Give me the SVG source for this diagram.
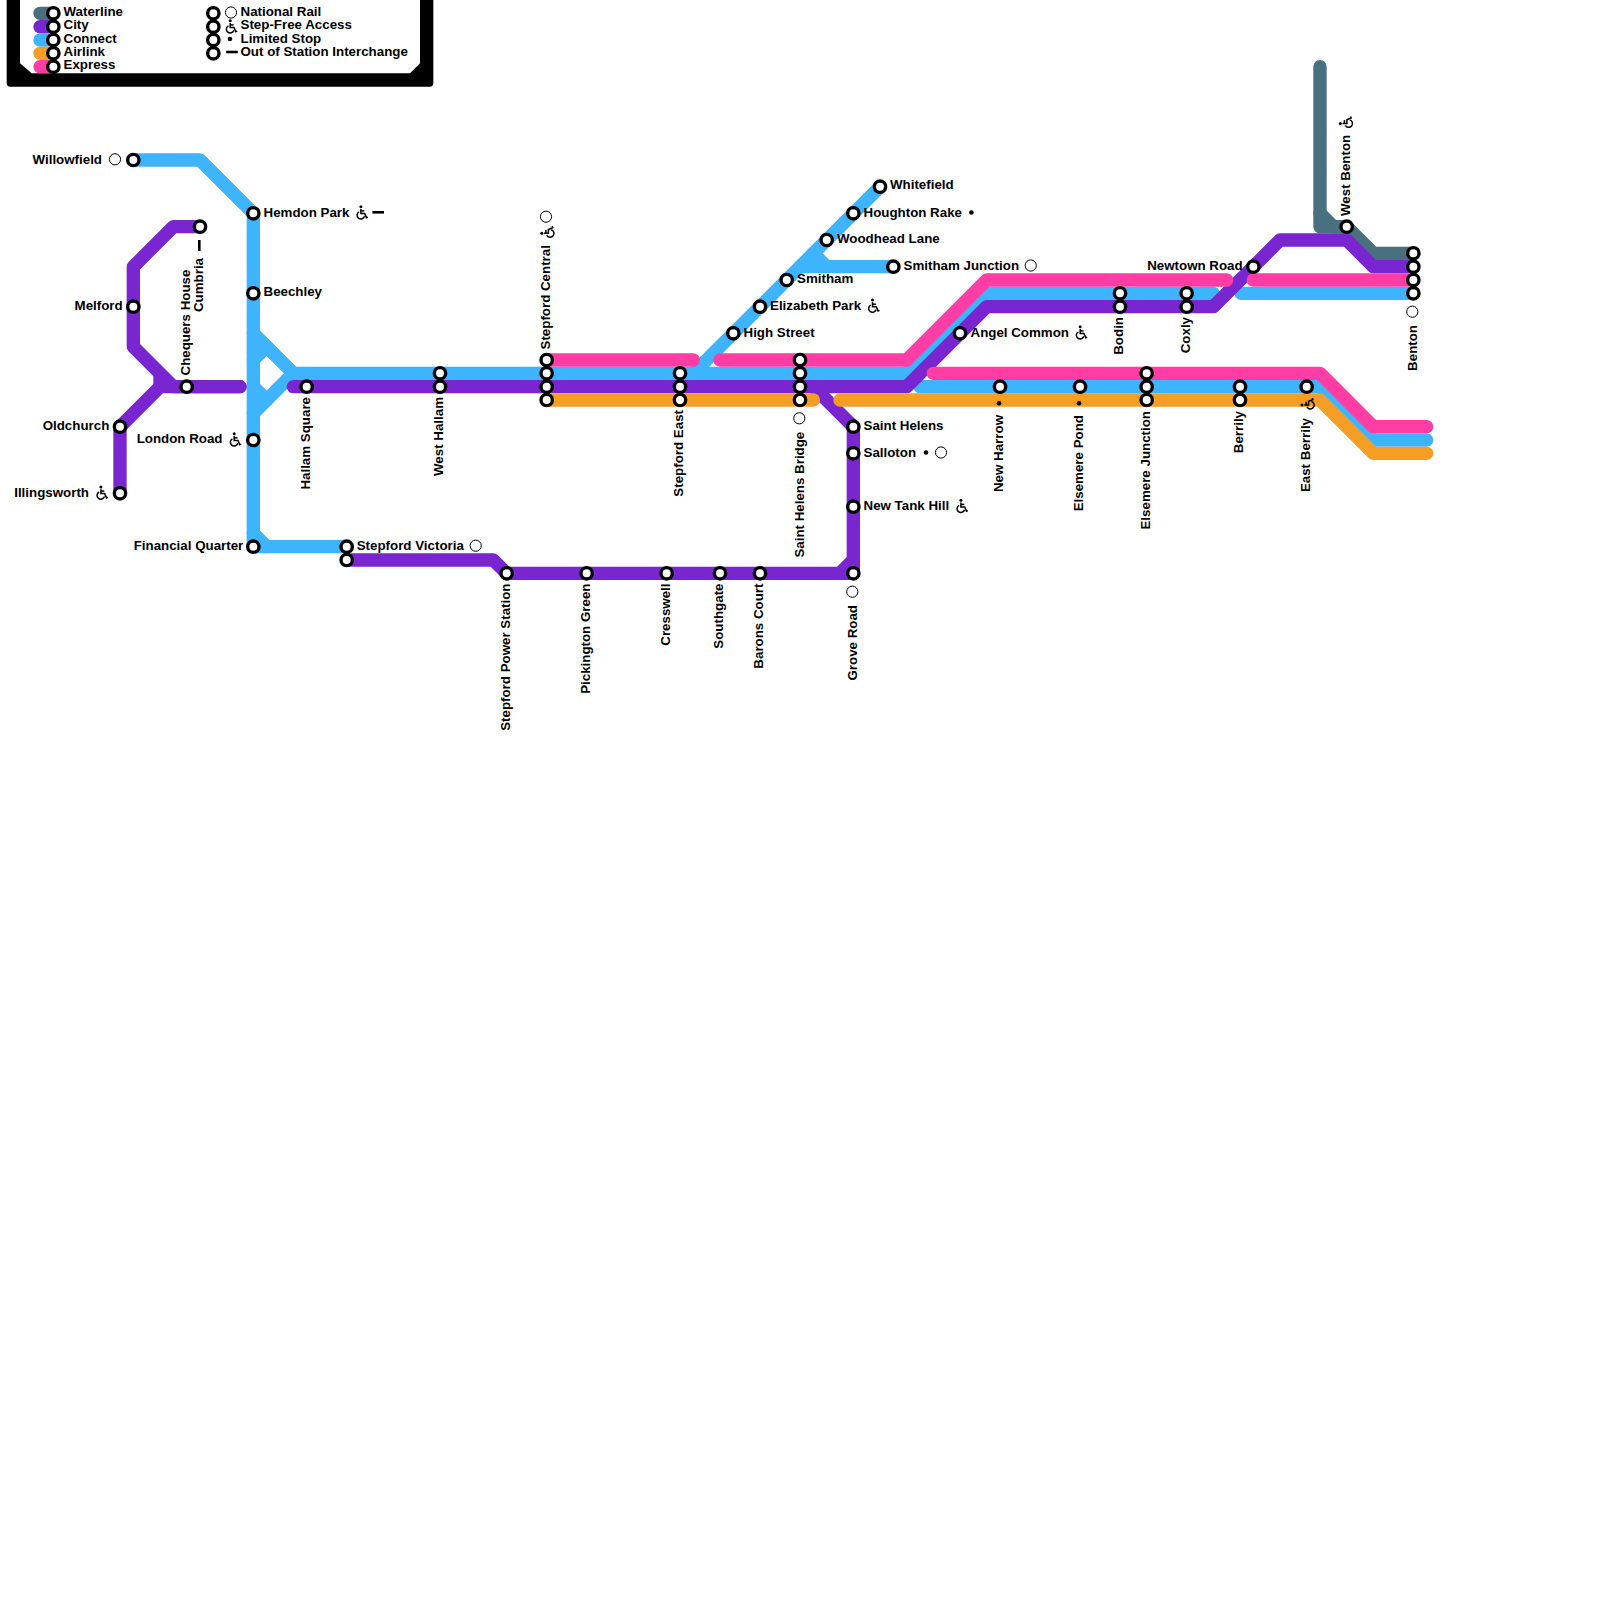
<svg xmlns="http://www.w3.org/2000/svg" width="1600" height="1600" viewBox="0 0 1600 1600">
<style>
text{font-family:"Liberation Sans",Arial,sans-serif;font-weight:700;font-size:13.33px;fill:#000}
.e{text-anchor:end}
.l{fill:none;stroke-width:13.33;stroke-linecap:round;stroke-linejoin:round}
.b{stroke-linecap:butt}
.wa{stroke:#48707F}.ci{stroke:#7A26D0}.co{stroke:#3EB4FF}.ai{stroke:#F59E26}.ex{stroke:#FF3DA5}
.s{fill:#fff;stroke:#000;stroke-width:3.4}
.nr{fill:#fff;stroke:#000;stroke-width:1}
.d{stroke:#000;stroke-width:2.6;fill:none}
</style>
<defs>
<circle id="st" class="s" r="5.67"/>
<circle id="rail" class="nr" r="5.6"/>
<circle id="dot" r="2.3" fill="#000"/>
<line id="dash" class="d" x1="-5.8" x2="5.8"/>
<g id="sf" fill="none" stroke="#000" stroke-width="1.5">
<circle cx="-.8" cy="-5.7" r="1.5" fill="#000" stroke="none"/>
<path d="M-.8-3.5V.9H3L4.8 5.2 6.2 4.6"/>
<path d="M-.8-1.6H2.6"/>
<path d="M-2.6-.7A3.8 3.8 0 1 0 2.8 3.7"/>
</g>
</defs>

<g id="legend">
<path fill="#000" d="M6.67-10V83Q6.67 86.67 10.3 86.67H429.7Q433.33 86.67 433.33 83V-10H420V63.3L410 73.3H31.7L20 63.3V-10Z"/>
<path class="l wa" d="M40 13.33H53.33"/>
<path class="l ci" d="M40 26.67H53.33"/>
<path class="l co" d="M40 40H53.33"/>
<path class="l ai" d="M40 53.33H53.33"/>
<path class="l ex" d="M40 66.67H53.33"/>
<use href="#st" x="53.33" y="13.33"/><use href="#st" x="53.33" y="26.67"/><use href="#st" x="53.33" y="40"/><use href="#st" x="53.33" y="53.33"/><use href="#st" x="53.33" y="66.67"/>
<use href="#st" x="213.33" y="13.33"/><use href="#st" x="213.33" y="26.67"/><use href="#st" x="213.33" y="40"/><use href="#st" x="213.33" y="53.33"/>
<text x="63.5" y="16">Waterline</text><text x="63.5" y="29.3">City</text><text x="63.5" y="42.6">Connect</text><text x="63.5" y="56">Airlink</text><text x="63.5" y="69.3">Express</text>
<use href="#rail" x="231" y="12.5"/><use href="#sf" x="231" y="26.5"/><use href="#dot" x="230" y="39"/><use href="#dash" x="232" y="52"/>
<text x="240.5" y="16">National Rail</text><text x="240.5" y="29.3">Step-Free Access</text><text x="240.5" y="42.6">Limited Stop</text><text x="240.5" y="56">Out of Station Interchange</text>
</g>

<g id="connectors">
<g id="line-waterline">
<path class="l wa" d="M1320 66.67V226.67H1346.67"/>
<path class="l wa" d="M1320 213.33 1333.33 226.67H1346.67L1373.33 253.33H1413.33"/>
</g>
<g id="line-connect">
<path class="l co" d="M133.33 160H200L253.33 213.33V546.67H346.67"/>
<path class="l co" d="M253.33 533.33 266.67 546.67"/>
<path class="l co" d="M253.33 333.33 293.33 373.33H906.67L986.67 293.33H1213.33"/>
<path class="l co" d="M253.33 413.33 293.33 373.33"/>
<path class="l co" d="M253.33 360 266.67 346.67"/>
<path class="l co" d="M253.33 386.67 266.67 400"/>
<path class="l co" d="M693.33 373.33 880 186.67"/>
<path class="l co" d="M800 266.67H893.33"/>
<path class="l co" d="M813.33 253.33 826.67 266.67"/>
<path class="l co" d="M920 386.67H1320L1373.33 440H1426.67"/>
<path class="l co" d="M1241 293.33H1413.33"/>
</g>
<g id="line-city">
<path class="l ci" d="M293.33 386.67H906.67L986.67 306.67H1213.33L1280 240H1346.67L1373.33 266.67H1413.33"/>
<path class="l ci" d="M813.33 386.67 853.33 426.67V573.33"/>
<path class="l ci" d="M853.33 560 840 573.33H506.67L493.33 560H346.67"/>
<path class="l ci" d="M840 573.33H853.33"/>
<path class="l ci" d="M200 226.67H173.33L133.33 266.67V346.67L173.33 386.67H240"/>
<path class="l ci" d="M120 493.33V426.67L160 386.67H240"/>
<path class="l ci b" d="M160 373.33V386.67"/>
</g>
<g id="line-airlink">
<path class="l ai" d="M546.67 400H813.33"/>
<path class="l ai" d="M840 400H1320L1373.33 453.33H1426.67"/>
</g>
<g id="line-express">
<path class="l ex" d="M546.67 360H693.33"/>
<path class="l ex" d="M720 360H906.67L986.67 280H1226.67"/>
<path class="l ex" d="M1253.33 280H1413.33"/>
<path class="l ex" d="M933.33 373.33H1320L1373.33 426.67H1426.67"/>
</g>
</g>

<g id="stations">
<g id="willowfield"><use href="#st" x="133.33" y="160"/><use href="#rail" x="115" y="159.3"/><text class="e" x="102" y="163.5">Willowfield</text></g>
<g id="hemdon-park"><use href="#st" x="253.33" y="213.33"/><text x="263.5" y="216.5">Hemdon Park</text><use href="#sf" x="361.7" y="212.5"/><use href="#dash" x="378.2" y="212.3"/></g>
<g id="beechley"><use href="#st" x="253.33" y="293.33"/><text x="263.5" y="296">Beechley</text></g>
<g id="london-road"><use href="#st" x="253.33" y="440"/><use href="#sf" x="235" y="439.5"/><text class="e" x="222.5" y="443.2">London Road</text></g>
<g id="financial-quarter"><use href="#st" x="253.33" y="546.67"/><text class="e" x="243.3" y="549.8">Financial Quarter</text></g>
<g id="stepford-victoria"><use href="#st" x="346.67" y="546.67"/><use href="#st" x="346.67" y="560"/><text x="356.7" y="549.8">Stepford Victoria</text><use href="#rail" x="475.7" y="545.7"/></g>
<g id="cumbria"><use href="#st" x="200" y="226.67"/><line class="d" x1="199.3" x2="199.3" y1="240" y2="251"/><text class="e" transform="translate(203.3 258) rotate(-90)">Cumbria</text></g>
<g id="melford"><use href="#st" x="133.33" y="306.67"/><text class="e" x="122.7" y="309.8">Melford</text></g>
<g id="chequers-house"><use href="#st" x="186.67" y="386.67"/><text transform="translate(190 375.5) rotate(-90)">Chequers House</text></g>
<g id="oldchurch"><use href="#st" x="120" y="426.67"/><text class="e" x="109.3" y="429.8">Oldchurch</text></g>
<g id="illingsworth"><use href="#st" x="120" y="493.33"/><use href="#sf" x="101.7" y="492.7"/><text class="e" x="89" y="496.5">Illingsworth</text></g>
<g id="hallam-square"><use href="#st" x="306.67" y="386.67"/><text class="e" transform="translate(310 397) rotate(-90)">Hallam Square</text></g>
<g id="west-hallam"><use href="#st" x="440" y="373.33"/><use href="#st" x="440" y="386.67"/><text class="e" transform="translate(443.3 397) rotate(-90)">West Hallam</text></g>
<g id="stepford-central"><use href="#st" x="546.67" y="360"/><use href="#st" x="546.67" y="373.33"/><use href="#st" x="546.67" y="386.67"/><use href="#st" x="546.67" y="400"/><text transform="translate(550 349.5) rotate(-90)">Stepford Central</text><use href="#sf" transform="translate(547.5 232.5) rotate(-90)"/><use href="#rail" x="546" y="216.7"/></g>
<g id="stepford-east"><use href="#st" x="680" y="373.33"/><use href="#st" x="680" y="386.67"/><use href="#st" x="680" y="400"/><text class="e" transform="translate(683.3 410) rotate(-90)">Stepford East</text></g>
<g id="saint-helens-bridge"><use href="#st" x="800" y="360"/><use href="#st" x="800" y="373.33"/><use href="#st" x="800" y="386.67"/><use href="#st" x="800" y="400"/><use href="#rail" x="799.3" y="418.3"/><text class="e" transform="translate(803.7 431.7) rotate(-90)">Saint Helens Bridge</text></g>
<g id="stepford-power-station"><use href="#st" x="506.67" y="573.33"/><text class="e" transform="translate(510 583.5) rotate(-90)">Stepford Power Station</text></g>
<g id="pickington-green"><use href="#st" x="586.67" y="573.33"/><text class="e" transform="translate(590 583.5) rotate(-90)">Pickington Green</text></g>
<g id="cresswell"><use href="#st" x="666.67" y="573.33"/><text class="e" transform="translate(670 583.5) rotate(-90)">Cresswell</text></g>
<g id="southgate"><use href="#st" x="720" y="573.33"/><text class="e" transform="translate(723.3 583.5) rotate(-90)">Southgate</text></g>
<g id="barons-court"><use href="#st" x="760" y="573.33"/><text class="e" transform="translate(763.3 583.5) rotate(-90)">Barons Court</text></g>
<g id="grove-road"><use href="#st" x="853.33" y="573.33"/><use href="#rail" x="852.3" y="591.7"/><text class="e" transform="translate(856.7 605) rotate(-90)">Grove Road</text></g>
<g id="saint-helens"><use href="#st" x="853.33" y="426.67"/><text x="863.5" y="429.8">Saint Helens</text></g>
<g id="salloton"><use href="#st" x="853.33" y="453.33"/><text x="863.5" y="456.5">Salloton</text><use href="#dot" x="926" y="452.5"/><use href="#rail" x="941" y="452.5"/></g>
<g id="new-tank-hill"><use href="#st" x="853.33" y="506.67"/><text x="863.5" y="509.8">New Tank Hill</text><use href="#sf" x="961.7" y="506"/></g>
<g id="high-street"><use href="#st" x="733.33" y="333.33"/><text x="743.5" y="336.5">High Street</text></g>
<g id="elizabeth-park"><use href="#st" x="760" y="306.67"/><text x="770" y="309.8">Elizabeth Park</text><use href="#sf" x="873.3" y="305.8"/></g>
<g id="smitham"><use href="#st" x="786.67" y="280"/><text x="797" y="283.1">Smitham</text></g>
<g id="woodhead-lane"><use href="#st" x="826.67" y="240"/><text x="837" y="243.1">Woodhead Lane</text></g>
<g id="houghton-rake"><use href="#st" x="853.33" y="213.33"/><text x="863.5" y="216.5">Houghton Rake</text><use href="#dot" x="971.4" y="212.5"/></g>
<g id="whitefield"><use href="#st" x="880" y="186.67"/><text x="890" y="189.4">Whitefield</text></g>
<g id="smitham-junction"><use href="#st" x="893.33" y="266.67"/><text x="903.5" y="269.8">Smitham Junction</text><use href="#rail" x="1030.7" y="265.5"/></g>
<g id="angel-common"><use href="#st" x="960" y="333.33"/><text x="970.5" y="336.5">Angel Common</text><use href="#sf" x="1081" y="332.5"/></g>
<g id="new-harrow"><use href="#st" x="1000" y="386.67"/><use href="#dot" x="999" y="403.3"/><text class="e" transform="translate(1003.3 415) rotate(-90)">New Harrow</text></g>
<g id="elsemere-pond"><use href="#st" x="1080" y="386.67"/><use href="#dot" x="1079" y="403.3"/><text class="e" transform="translate(1083.3 415) rotate(-90)">Elsemere Pond</text></g>
<g id="elsemere-junction"><use href="#st" x="1146.67" y="373.33"/><use href="#st" x="1146.67" y="386.67"/><use href="#st" x="1146.67" y="400"/><text class="e" transform="translate(1150 411) rotate(-90)">Elsemere Junction</text></g>
<g id="berrily"><use href="#st" x="1240" y="386.67"/><use href="#st" x="1240" y="400"/><text class="e" transform="translate(1243.3 411) rotate(-90)">Berrily</text></g>
<g id="east-berrily"><use href="#st" x="1306.67" y="386.67"/><use href="#sf" transform="translate(1307.7 404.3) rotate(-90)"/><text class="e" transform="translate(1310 418) rotate(-90)">East Berrily</text></g>
<g id="bodin"><use href="#st" x="1120" y="293.33"/><use href="#st" x="1120" y="306.67"/><text class="e" transform="translate(1123.3 317) rotate(-90)">Bodin</text></g>
<g id="coxly"><use href="#st" x="1186.67" y="293.33"/><use href="#st" x="1186.67" y="306.67"/><text class="e" transform="translate(1190 317) rotate(-90)">Coxly</text></g>
<g id="newtown-road"><use href="#st" x="1253.33" y="266.67"/><text class="e" x="1242.7" y="269.8">Newtown Road</text></g>
<g id="west-benton"><use href="#st" x="1346.67" y="226.67"/><text transform="translate(1350 216) rotate(-90)">West Benton</text><use href="#sf" transform="translate(1346 122.7) rotate(-90)"/></g>
<g id="benton"><use href="#st" x="1413.33" y="253.33"/><use href="#st" x="1413.33" y="266.67"/><use href="#st" x="1413.33" y="280"/><use href="#st" x="1413.33" y="293.33"/><use href="#rail" x="1412.3" y="311.7"/><text class="e" transform="translate(1416.7 325) rotate(-90)">Benton</text></g>
</g>
</svg>
